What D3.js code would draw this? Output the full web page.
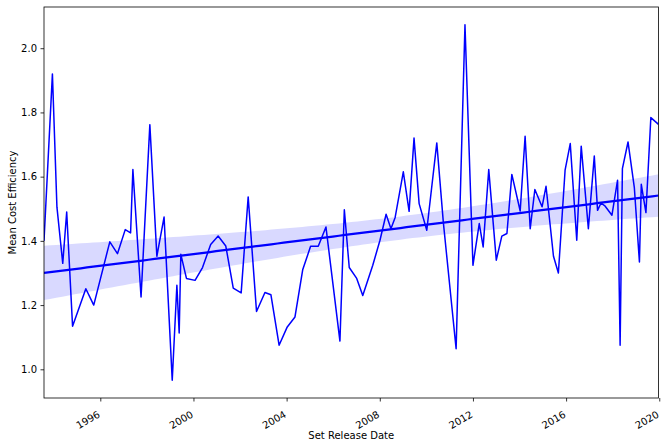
<!DOCTYPE html>
<html>
<head>
<meta charset="utf-8">
<script src="https://cdn.jsdelivr.net/npm/d3@7"></script>
<style>
html,body{margin:0;padding:0;background:#fff;}
svg{display:block;font-family:"DejaVu Sans",sans-serif;}
</style>
</head>
<body>
<svg id="chart" width="665" height="448"></svg>
<script>
// ---- data ----
const releaseDates = [
 "1993-08-01","1993-12-11","1994-02-20","1994-05-22","1994-07-23","1994-10-23",
 "1995-05-19","1995-09-20","1996-05-29","1996-09-26","1997-01-26","1997-04-20",
 "1997-05-26","1997-10-01","1998-02-16","1998-06-06","1998-09-27","1999-02-02",
 "1999-04-16","1999-05-22","1999-06-17","1999-09-13","2000-01-26","2000-05-22",
 "2000-09-27","2001-01-22","2001-05-22","2001-09-16","2002-01-18","2002-05-08",
 "2002-09-16","2003-01-26","2003-04-30","2003-09-05","2004-01-11","2004-05-11",
 "2004-09-09","2005-01-11","2005-05-11","2005-09-09","2006-04-16","2006-06-24",
 "2006-09-09","2007-01-04","2007-04-09","2007-09-13","2008-01-04","2008-04-09",
 "2008-06-24","2008-08-29","2009-01-04","2009-04-05","2009-06-21","2009-09-09",
 "2010-01-07","2010-06-13","2010-09-23","2011-04-12","2011-08-29","2012-01-01",
 "2012-04-09","2012-06-09","2012-09-05","2013-01-01","2013-03-29","2013-06-17",
 "2013-09-02","2014-01-11","2014-03-29","2014-06-17","2014-08-29","2014-12-20",
 "2015-02-20","2015-06-17","2015-09-02","2015-12-16","2016-03-06","2016-06-16",
 "2016-08-25","2016-12-15","2017-03-18","2017-05-08","2017-07-02","2017-09-05",
 "2017-12-20","2018-03-18","2018-04-27","2018-06-02","2018-08-29","2018-12-06",
 "2019-02-24","2019-03-25","2019-06-06","2019-08-22","2019-12-20"
];
const meanCostEfficiency = [
 1.400,1.920,1.505,1.330,1.490,1.134,
 1.251,1.200,1.397,1.360,1.435,1.425,
 1.622,1.225,1.762,1.352,1.474,0.966,
 1.262,1.113,1.358,1.283,1.277,1.317,
 1.389,1.415,1.384,1.253,1.238,1.537,
 1.180,1.239,1.232,1.075,1.132,1.163,
 1.310,1.383,1.383,1.443,1.088,1.497,
 1.317,1.283,1.230,1.324,1.402,1.483,
 1.438,1.473,1.615,1.492,1.720,1.516,
 1.433,1.705,1.459,1.064,2.073,1.324,
 1.454,1.381,1.622,1.340,1.415,1.423,
 1.607,1.493,1.726,1.438,1.560,1.506,
 1.570,1.352,1.300,1.620,1.703,1.402,
 1.695,1.438,1.664,1.495,1.518,1.508,
 1.480,1.589,1.075,1.625,1.708,1.566,
 1.334,1.576,1.488,1.784,1.763
];
const yTickValues = [1.0, 1.2, 1.4, 1.6, 1.8, 2.0];
const xTickYears = [1996, 2000, 2004, 2008, 2012, 2016, 2020];
const xAxisLabel = "Set Release Date";
const yAxisLabel = "Mean Cost Efficiency";

// ---- layout ----
const svg = d3.select("#chart");
const L = 44, R = 658.5, T = 7, B = 398;
const parse = d3.timeParse("%Y-%m-%d");
const pts = releaseDates.map((d, i) => ({date: parse(d), v: meanCostEfficiency[i]}));

const x = d3.scaleTime().domain(d3.extent(pts, d => d.date)).range([L, R]);
const [ymin, ymax] = d3.extent(pts, d => d.v);
const pad = (ymax - ymin) * 0.05;
const y = d3.scaleLinear().domain([ymin - pad, ymax + pad]).range([B, T]);

// ---- linear regression with 95% (heteroscedasticity-robust) confidence band ----
const n = pts.length;
const xs = pts.map(d => +d.date / 864e5);
const ys = pts.map(d => d.v);
const mx = d3.mean(xs), my = d3.mean(ys);
let sxx = 0, sxy = 0;
xs.forEach((xi, i) => { sxx += (xi - mx) ** 2; sxy += (xi - mx) * (ys[i] - my); });
const slope = sxy / sxx, icpt = my - slope * mx;
let m00 = 0, m01 = 0, m11 = 0;
xs.forEach((xi, i) => {
  const e2 = (ys[i] - (icpt + slope * xi)) ** 2, dx = xi - mx;
  m00 += e2; m01 += e2 * dx; m11 += e2 * dx * dx;
});
const hc = n / (n - 2);
const v00 = hc * m00 / (n * n), v01 = hc * m01 / (n * sxx), v11 = hc * m11 / (sxx * sxx);
const z = 1.96;
const grid = d3.range(0, 101).map(k => {
  const xv = xs[0] + (xs[n - 1] - xs[0]) * k / 100;
  const yh = icpt + slope * xv;
  const d = xv - mx;
  const se = Math.sqrt(v00 + 2 * d * v01 + d * d * v11);
  return {date: new Date(xv * 864e5), yh, lo: yh - z * se, hi: yh + z * se};
});

svg.append("clipPath").attr("id", "plotclip")
  .append("rect").attr("x", L).attr("y", T).attr("width", R - L).attr("height", B - T);
const plot = svg.append("g").attr("clip-path", "url(#plotclip)");

plot.append("path").datum(pts)
  .attr("fill", "none").attr("stroke", "#0000ff").attr("stroke-width", 1.5)
  .attr("stroke-linejoin", "round")
  .attr("d", d3.line().x(d => x(d.date)).y(d => y(d.v)));

plot.append("path").datum(grid)
  .attr("fill", "#0000ff").attr("fill-opacity", 0.15).attr("stroke", "none")
  .attr("d", d3.area().x(d => x(d.date)).y0(d => y(d.lo)).y1(d => y(d.hi)));

plot.append("path").datum(grid)
  .attr("fill", "none").attr("stroke", "#0000ff").attr("stroke-width", 2.25)
  .attr("d", d3.line().x(d => x(d.date)).y(d => y(d.yh)));

// ---- axes ----
const yAxis = svg.append("g").attr("transform", `translate(${L},0)`)
  .call(d3.axisLeft(y).tickValues(yTickValues).tickFormat(d3.format(".1f")).tickSize(3.5).tickPadding(3.5));
const xAxis = svg.append("g").attr("transform", `translate(0,${B})`)
  .call(d3.axisBottom(x).tickValues(xTickYears.map(yr => new Date(yr, 0, 1)))
    .tickFormat(d3.timeFormat("%Y")).tickSize(3.5).tickPadding(3.5));
[xAxis, yAxis].forEach(g => {
  g.select(".domain").remove();
  g.selectAll(".tick line").attr("stroke", "#000").attr("stroke-width", 0.8);
  g.selectAll(".tick text").attr("fill", "#000").attr("font-size", 10)
    .attr("font-family", "DejaVu Sans");
});
xAxis.selectAll(".tick text")
  .attr("text-anchor", "end").attr("dy", null).attr("y", null)
  .attr("transform", "translate(0,18.5) rotate(-30)");

// frame
svg.append("rect").attr("x", L).attr("y", T).attr("width", R - L).attr("height", B - T)
  .attr("fill", "none").attr("stroke", "#000").attr("stroke-width", 0.8);

// labels
svg.append("text").attr("x", (L + R) / 2).attr("y", 439).attr("text-anchor", "middle")
  .attr("font-size", 10).attr("fill", "#000").text(xAxisLabel);
svg.append("text").attr("transform", `translate(15.5,${(T + B) / 2}) rotate(-90)`)
  .attr("text-anchor", "middle").attr("font-size", 10).attr("fill", "#000").text(yAxisLabel);
</script>
</body>
</html>
